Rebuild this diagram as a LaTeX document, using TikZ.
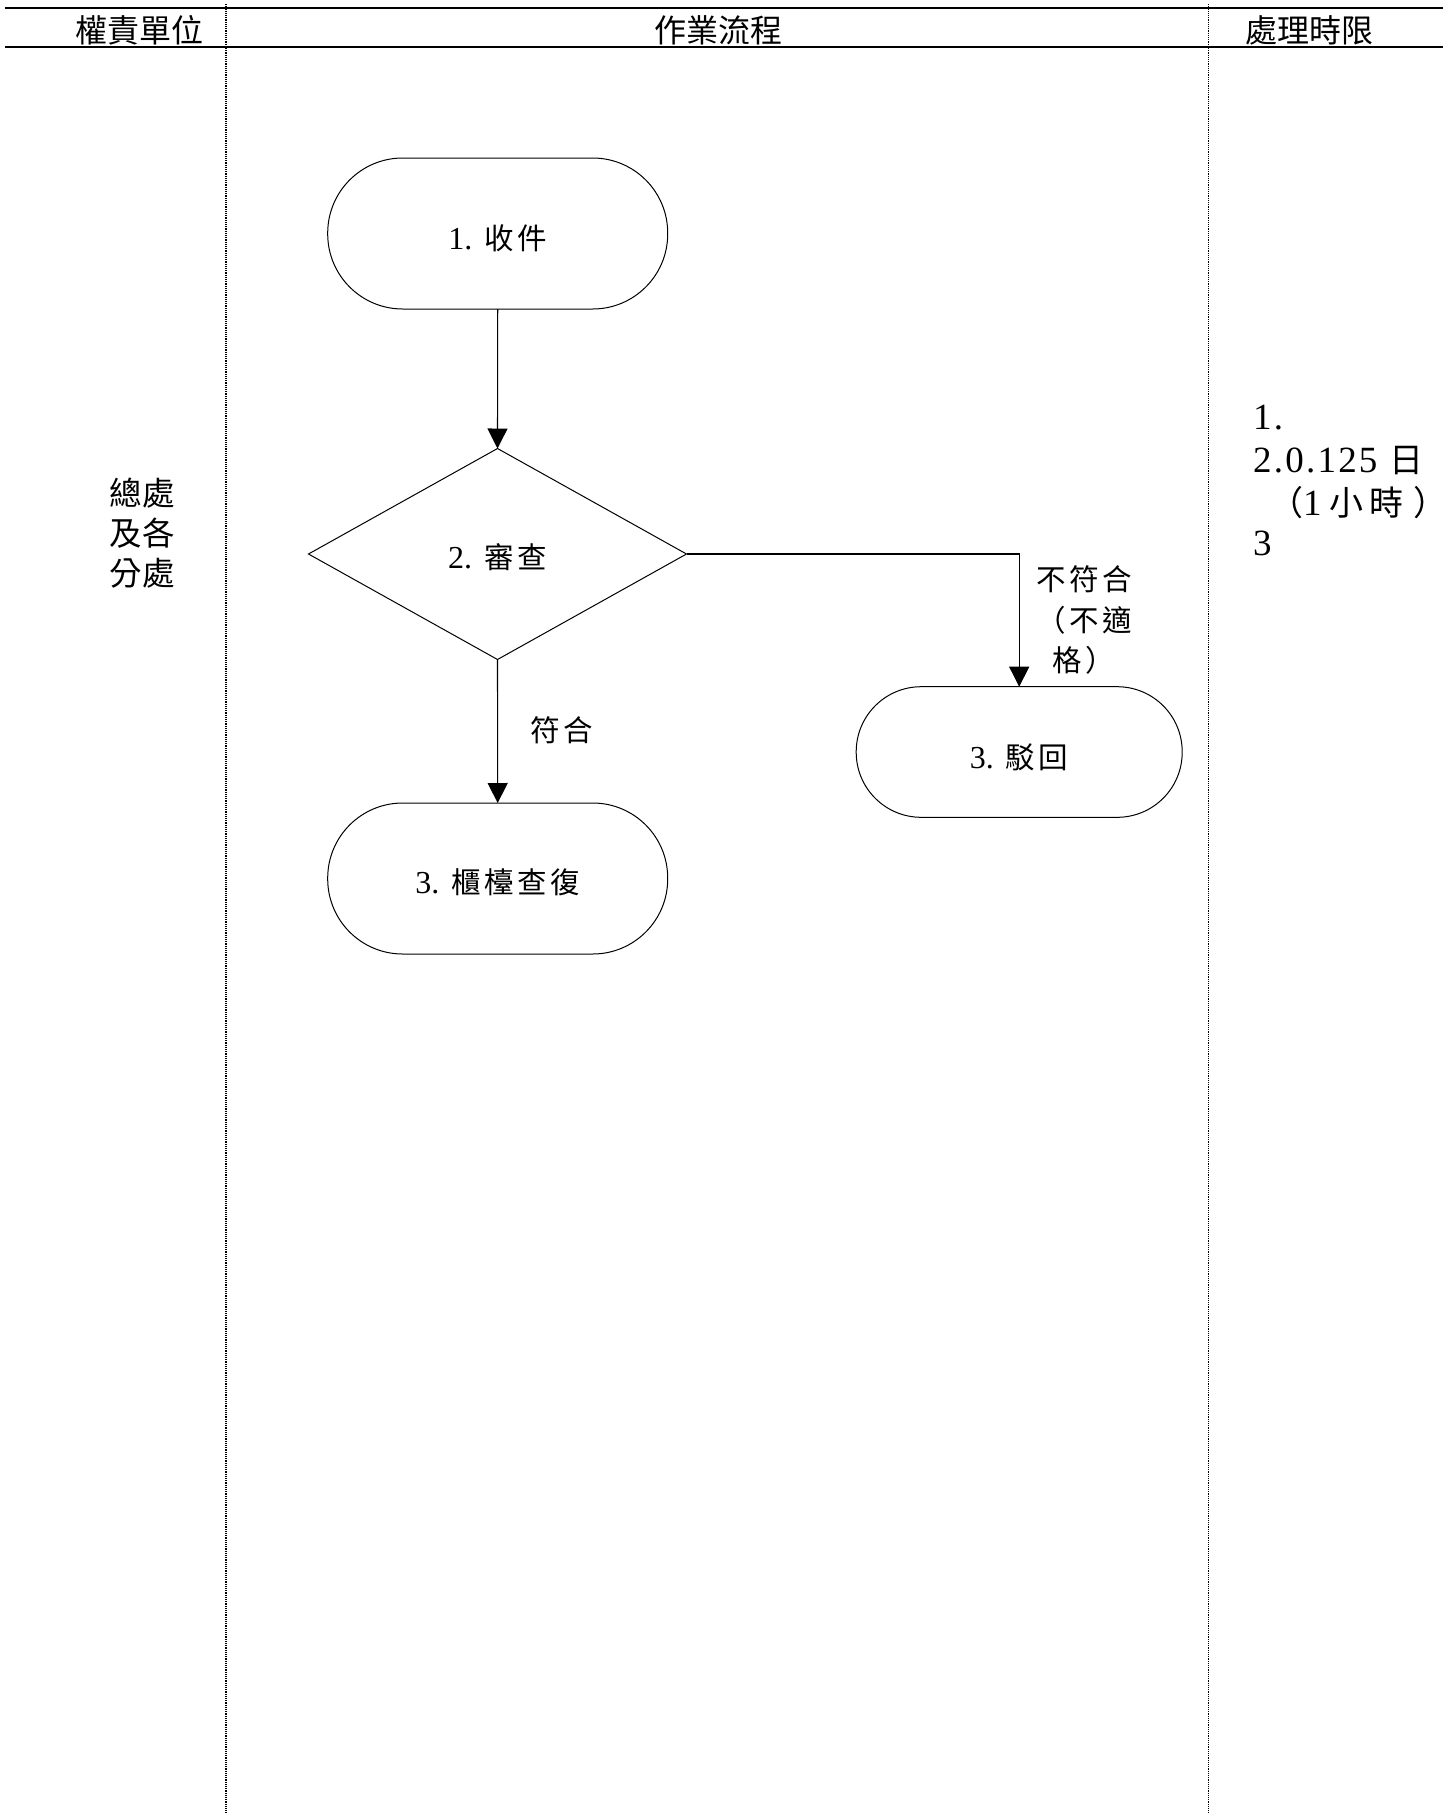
\documentclass[tikz,border=0pt]{standalone}
\usepackage{fontspec}
\setmainfont{Noto Sans CJK TC}
\newfontfamily\flowcjk{Noto Sans CJK TC}[LetterSpace=12]
\newfontfamily\latnF{Liberation Serif}
\newfontfamily\latnR{Liberation Serif}[LetterSpace=6]
\usetikzlibrary{shapes.geometric,arrows.meta}
\newcommand{\dg}[1]{{\latnF\fontsize{32}{32}\selectfont #1}}
\newcommand{\dr}[1]{{\latnR\fontsize{37}{37}\selectfont #1}}
\newcommand{\lowered}[2]{\raisebox{-#1pt}[0pt][0pt]{#2}}
\begin{document}
\begin{tikzpicture}[x=1pt,y=-1pt,
  hdr/.style={font=\fontsize{32}{34}\selectfont,inner sep=0,anchor=center},
  lane/.style={line width=1.2pt,densely dotted},
  rule/.style={line width=1.8pt},
  term/.style={draw,line width=1pt,rounded corners=#1,inner sep=0,outer sep=0},
  dec/.style={draw,line width=1pt,diamond,aspect=1.79,inner sep=0,outer sep=0,minimum width=378pt,minimum height=211pt},
  ftxt/.style={font=\flowcjk\fontsize{29.5}{40.5}\selectfont},
  ttxt/.style={font=\fontsize{34}{34}\selectfont,inner sep=0,anchor=base west},
  flow/.style={line width=1.1pt,-{Triangle[length=20pt,width=20pt]}}]
\useasboundingbox (0,0) rectangle (1452,1813);
% header rules and lanes
\coordinate (tl) at (5,8.3);
\coordinate (tr) at (1443,8.3);
\coordinate (bl) at (5,46.7);
\coordinate (br) at (1443,46.7);
\draw[rule] (tl) -- (tr);
\draw[rule] (bl) -- (br);
\coordinate (l1t) at (226,4);
\coordinate (l1b) at (226,1813);
\coordinate (l2t) at (1208.3,4);
\coordinate (l2b) at (1208.3,1813);
\draw[lane] (l1t) -- (l1b);
\draw[lane] (l2t) -- (l2b);
\node[hdr] (h1) at (139,30) {權責單位};
\node[hdr] (h2) at (718,30) {作業流程};
\node[hdr] (h3) at (1309,30) {處理時限};
% left column
\node[font=\fontsize{32.5}{40}\selectfont,align=center,inner sep=0] (unit) at (142,533) {總處\\及各\\分處};
% flow nodes
\node[term=75pt,minimum width=340pt,minimum height=151pt,ftxt] (s1) at (497.7,233.5) {\lowered{15.5}{\dg{1.}\hspace{12pt}收件}};
\node[dec,ftxt] (d) at (497.5,554) {\lowered{14}{\dg{2.}\hspace{12pt}審查}};
\node[term=75pt,minimum width=340pt,minimum height=151pt,ftxt] (s2) at (497.7,878.5) {\lowered{14.5}{\dg{3.}\hspace{12pt}櫃檯查復}};
\node[term=65pt,minimum width=326pt,minimum height=130.6pt,ftxt] (s3) at (1019.2,752) {\lowered{16}{\dg{3.}\hspace{12pt}駁回}};
% connectors
\draw[flow] (s1.south) -- (d.north);
\draw[flow] (d.south) -- (s2.north);
\draw[flow] (d.east) -| (s3.north);
\node[ftxt,inner sep=0] (yes) at (562,730) {符合};
\node[ftxt,align=center,inner sep=0] (no) at (1084,620) {不符合\\（不適\\格）};
% time limits
\node[ttxt] (t1) at (1253,429) {\dr{1.}};
\node[ttxt] (t2) at (1253,472.5) {\dr{2.0.125}\hspace{12pt}日};
\node[ttxt] (t3) at (1253,515.5) {\hspace{16pt}（\dr{1}\hspace{8pt}小\hspace{6pt}時\hspace{10pt}）};
\node[ttxt] (t4) at (1253,555.5) {\dr{3}};
\end{tikzpicture}
\end{document}
